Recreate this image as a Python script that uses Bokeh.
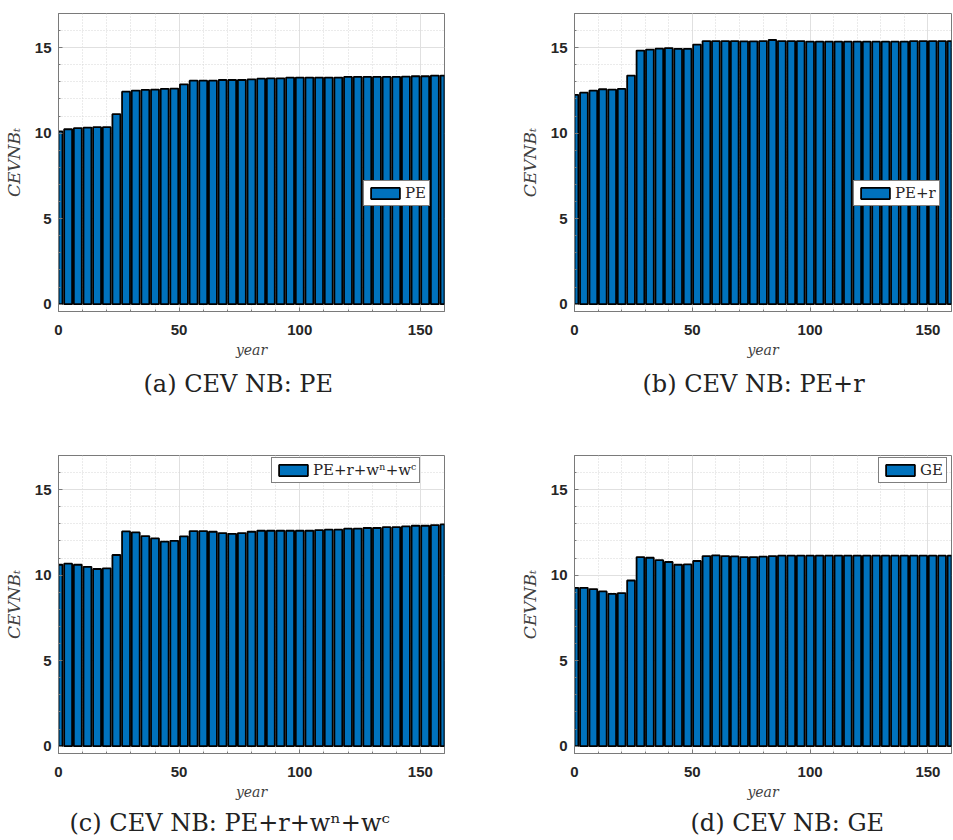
from bokeh.plotting import figure
from bokeh.models import (Range1d, SingleIntervalTicker, Legend, LegendItem,
                          Title, ColumnDataSource)
from bokeh.layouts import column, row
from bokeh.embed import file_html
from bokeh.resources import INLINE

# ---------------- data ----------------
years = list(range(0, 161, 4))

cev_pe = [10.11, 10.23, 10.29, 10.33, 10.35, 10.35, 11.11, 12.43, 12.49, 12.53,
          12.55, 12.59, 12.61, 12.86, 13.07, 13.07, 13.07, 13.11, 13.11, 13.11,
          13.15, 13.19, 13.21, 13.21, 13.25, 13.25, 13.25, 13.25, 13.25, 13.25,
          13.29, 13.29, 13.29, 13.29, 13.29, 13.29, 13.31, 13.33, 13.33, 13.37,
          13.37]

cev_pe_r = [12.24, 12.37, 12.49, 12.57, 12.55, 12.59, 13.37, 14.83, 14.89, 14.94,
            14.98, 14.93, 14.93, 15.18, 15.39, 15.39, 15.39, 15.39, 15.37, 15.37,
            15.39, 15.45, 15.39, 15.39, 15.39, 15.35, 15.35, 15.35, 15.35, 15.35,
            15.35, 15.35, 15.35, 15.35, 15.35, 15.35, 15.39, 15.39, 15.39, 15.39,
            15.39]

cev_pe_r_w = [10.61, 10.67, 10.61, 10.49, 10.36, 10.40, 11.18, 12.56, 12.50, 12.29,
              12.15, 11.96, 12.01, 12.27, 12.58, 12.58, 12.54, 12.46, 12.42, 12.46,
              12.54, 12.60, 12.60, 12.60, 12.60, 12.60, 12.60, 12.64, 12.66, 12.66,
              12.72, 12.72, 12.76, 12.76, 12.81, 12.81, 12.85, 12.89, 12.89, 12.93,
              12.97]

cev_ge = [9.26, 9.26, 9.19, 9.05, 8.91, 8.95, 9.69, 11.06, 11.02, 10.88,
          10.77, 10.61, 10.63, 10.83, 11.12, 11.16, 11.12, 11.10, 11.06, 11.06,
          11.08, 11.12, 11.14, 11.14, 11.14, 11.14, 11.14, 11.14, 11.14, 11.14,
          11.14, 11.14, 11.14, 11.14, 11.14, 11.14, 11.14, 11.14, 11.14, 11.14,
          11.14]

legend_labels = ["PE", "PE+r", "PE+r+wⁿ+wᶜ", "GE"]
captions = ["(a) CEV NB: PE", "(b) CEV NB: PE+r",
            "(c) CEV NB: PE+r+wⁿ+wᶜ", "(d) CEV NB: GE"]
x_ticks_interval = 50
y_ticks_interval = 5

BAR_COLOR = "#0072BD"
AX_COLOR = "#7a7a7a"
TXT_COLOR = "#262626"


def make_panel(vals, label, caption, width, height, bl, br, bt, bb,
               leg_loc, cap_offset, cap_standoff):
    p = figure(width=width, height=height, output_backend="svg",
               toolbar_location=None, tools="",
               x_range=Range1d(0, 160), y_range=Range1d(-0.43, 17),
               min_border_left=bl, min_border_right=br,
               min_border_top=bt, min_border_bottom=bb)
    src = ColumnDataSource(dict(x=years, y=vals))
    r = p.vbar(x="x", top="y", bottom=0, width=3.3, source=src,
               fill_color=BAR_COLOR, line_color="black", line_width=1.8)

    p.xaxis.ticker = SingleIntervalTicker(interval=x_ticks_interval, num_minor_ticks=5)
    p.yaxis.ticker = SingleIntervalTicker(interval=y_ticks_interval, num_minor_ticks=5)
    for ax in (p.xaxis[0], p.yaxis[0]):
        ax.axis_line_color = AX_COLOR
        ax.major_tick_line_color = AX_COLOR
        ax.minor_tick_line_color = AX_COLOR
        ax.major_tick_in = 4
        ax.major_tick_out = 0
        ax.minor_tick_in = 2
        ax.minor_tick_out = 0
        ax.major_label_text_font = "Liberation Sans"
        ax.major_label_text_font_style = "bold"
        ax.major_label_text_font_size = "15px"
        ax.major_label_text_color = TXT_COLOR
        ax.axis_label_text_font = "DejaVu Serif"
        ax.axis_label_text_font_style = "italic"
        ax.axis_label_text_color = "#404040"
    p.xaxis.axis_label = "year"
    p.xaxis.axis_label_text_font_size = "14px"
    p.xaxis.major_label_standoff = 13
    p.xaxis.axis_label_standoff = 4
    p.yaxis.axis_label = "CEVNBₜ"
    p.yaxis.axis_label_text_font_size = "17px"
    p.yaxis.major_label_standoff = 7
    p.yaxis.axis_label_standoff = 8

    for g in (p.xgrid[0], p.ygrid[0]):
        g.grid_line_color = "#e0e0e0"
        g.grid_line_width = 1
        g.minor_grid_line_color = "#d6d6d6"
        g.minor_grid_line_dash = "1 2"
        g.minor_grid_line_width = 1

    p.outline_line_color = AX_COLOR
    p.outline_line_width = 1
    p.background_fill_color = "white"
    p.border_fill_color = "white"

    leg = Legend(items=[LegendItem(label=label, renderers=[r])],
                 location=leg_loc, margin=0, padding=3, spacing=0,
                 label_standoff=2, glyph_width=36, glyph_height=14,
                 label_text_font="DejaVu Serif", label_text_font_size="15px",
                 label_text_color="#262626", label_height=14,
                 border_line_color="black", border_line_width=1,
                 background_fill_color="white", background_fill_alpha=1)
    p.add_layout(leg)

    t = Title(text=caption, align="left", text_font="DejaVu Serif",
              text_font_size="24px", text_font_style="normal",
              text_color="#222222", offset=cap_offset, standoff=cap_standoff)
    p.add_layout(t, "below")
    return p


pa = make_panel(cev_pe, legend_labels[0], captions[0], 480, 440, 58, 36, 13, 129,
                (305, 105), 85, 14)
pb = make_panel(cev_pe_r, legend_labels[1], captions[1], 473, 440, 94, 2, 13, 129,
                (279, 105), 68, 14)
pc = make_panel(cev_pe_r_w, legend_labels[2], captions[2], 480, 400, 58, 36, 15, 87,
                (213, 270), 11, 8)
pd = make_panel(cev_ge, legend_labels[3], captions[3], 473, 400, 94, 2, 15, 87,
                (304, 270), 116, 8)

layout = column(row(pa, pb), row(pc, pd))

open("out.html", "w").write(file_html(layout, INLINE))
